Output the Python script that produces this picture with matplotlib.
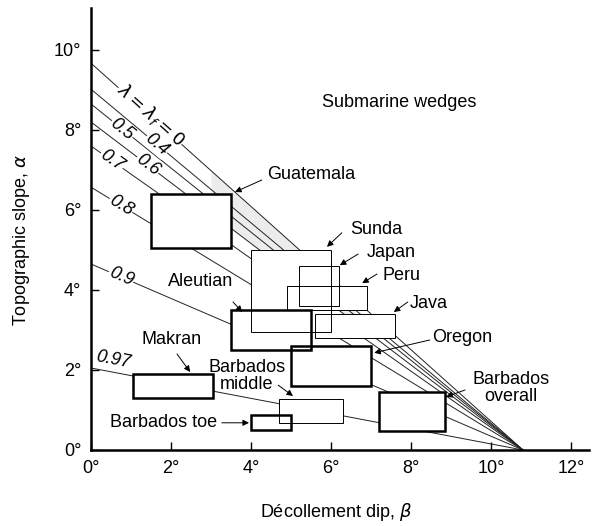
import numpy as np
import matplotlib.pyplot as plt
from matplotlib.patches import Rectangle

plt.rcParams['font.family'] = ['Liberation Sans', 'DejaVu Sans']

# critical taper lines: pore-fluid ratio and intercept on alpha axis (deg)
lam_labels = [r'$\lambda = \lambda_f = 0$', '0.4', '0.5', '0.6', '0.7', '0.8', '0.9', '0.97']
lam_alpha0 = [9.67, 9.02, 8.65, 8.2, 7.6, 6.57, 4.65, 2.05]
beta0 = 10.8   # all lines meet the beta axis here

# observed wedges (beta range, alpha range)
names = ['Guatemala', 'Sunda', 'Japan', 'Peru', 'Java', 'Aleutian', 'Oregon',
         'Barbados overall', 'Barbados middle', 'Barbados toe', 'Makran']
beta_lo = [1.5, 4.0, 5.2, 4.9, 5.6, 3.5, 5.0, 7.2, 4.7, 4.0, 1.05]
beta_hi = [3.5, 6.0, 6.2, 6.9, 7.6, 5.5, 7.0, 8.85, 6.3, 5.0, 3.05]
alpha_lo = [5.05, 2.95, 3.6, 3.5, 2.8, 2.5, 1.6, 0.48, 0.68, 0.5, 1.3]
alpha_hi = [6.4, 5.0, 4.6, 4.1, 3.4, 3.5, 2.6, 1.45, 1.28, 0.88, 1.9]
thick = [True, False, False, False, False, True, True, True, False, True, True]

xticks = [0, 2, 4, 6, 8, 10, 12]
yticks = [0, 2, 4, 6, 8, 10]

fs = 13

fig = plt.figure(figsize=(5.95, 5.26), dpi=100)
ax = fig.add_axes([91/595, 76/526, 498/595, 442/526])
ax.set_xlim(0, 12.45)
ax.set_ylim(0, 11.05)

# grey band between the outer lines
xb = np.linspace(3.0, 6.6, 50)
ax.fill_between(xb, lam_alpha0[0]*(1 - xb/beta0), lam_alpha0[3]*(1 - xb/beta0),
                color='#ececec', lw=0, zorder=1)

for a0 in lam_alpha0:
    ax.plot([0, beta0], [a0, 0], color='#222222', lw=0.7, zorder=1.5)

# line labels sit on the lines
lab_x = [1.5, 1.65, 0.78, 1.42, 0.52, 0.75, 0.75, 0.55]
lab_dy = [0.05, 0, 0, 0, 0, 0, 0, 0.3]
for lab, a0, lx, dy in zip(lam_labels, lam_alpha0, lab_x, lab_dy):
    ang = -np.degrees(np.arctan(a0/beta0))
    ax.text(lx, a0*(1 - lx/beta0) + dy, lab, rotation=ang, fontsize=fs, style='italic',
            ha='center', va='center', rotation_mode='anchor', zorder=2,
            bbox=dict(fc='white', ec='none', pad=0.5))

# boxes: white fill first, then the outlines
for i in range(len(names)):
    ax.add_patch(Rectangle((beta_lo[i], alpha_lo[i]), beta_hi[i]-beta_lo[i],
                           alpha_hi[i]-alpha_lo[i], fc='white', ec='none', zorder=3))
for i in range(len(names)):
    ax.add_patch(Rectangle((beta_lo[i], alpha_lo[i]), beta_hi[i]-beta_lo[i],
                           alpha_hi[i]-alpha_lo[i], fill=False, ec='black',
                           lw=1.8 if thick[i] else 0.7, zorder=4))

# labels with arrows: text, text pos, arrow tail, arrow head, alignment
notes = [
    ('Guatemala', (4.4, 6.88), (4.27, 6.75), (3.6, 6.45), 'left'),
    ('Sunda', (6.48, 5.5), (6.27, 5.43), (5.9, 5.08), 'left'),
    ('Japan', (6.9, 4.93), (6.68, 4.9), (6.22, 4.62), 'left'),
    ('Peru', (7.28, 4.35), (7.15, 4.4), (6.78, 4.17), 'left'),
    ('Java', (7.98, 3.65), (7.92, 3.7), (7.57, 3.45), 'left'),
    ('Oregon', (8.53, 2.8), (8.47, 2.75), (7.08, 2.43), 'left'),
    ('Barbados\noverall', (10.5, 1.55), (9.35, 1.5), (8.88, 1.33), 'center'),
    ('Aleutian', (2.75, 4.2), (3.55, 3.7), (3.78, 3.45), 'center'),
    ('Makran', (2.02, 2.75), (2.15, 2.4), (2.48, 1.95), 'center'),
    ('Barbados\nmiddle', (3.9, 1.85), (4.68, 1.62), (5.05, 1.35), 'center'),
    ('Barbados toe', (0.48, 0.68), (3.27, 0.68), (3.95, 0.68), 'left'),
]
for txt, tpos, tail, head, ha in notes:
    ax.text(tpos[0], tpos[1], txt, fontsize=fs, ha=ha, va='center',
            multialignment='center', linespacing=1.0, zorder=5)
    ax.annotate('', xy=head, xytext=tail, zorder=5,
                arrowprops=dict(arrowstyle='-|>', color='black', lw=0.7,
                                mutation_scale=9, shrinkA=0, shrinkB=0))

ax.text(5.78, 8.68, 'Submarine wedges', fontsize=fs, ha='left', va='center')

for s in ['top', 'right']:
    ax.spines[s].set_visible(False)
for s in ['left', 'bottom']:
    ax.spines[s].set_linewidth(1.8)

ax.set_xticks(xticks)
ax.set_yticks(yticks)
ax.set_xticklabels([f'{v}°' for v in xticks])
ax.set_yticklabels([f'{v}°' for v in yticks])
ax.tick_params(direction='in', length=6, width=1, labelsize=fs, pad=7)

fig.text(336/595, 1 - 512/526, 'Décollement dip, ' + r'$\beta$', fontsize=fs,
         ha='center', va='center')
fig.text(22/595, 1 - 240/526, 'Topographic slope, ' + r'$\alpha$', fontsize=fs,
         ha='center', va='center', rotation=90)

fig.savefig('out.png', dpi=100)
